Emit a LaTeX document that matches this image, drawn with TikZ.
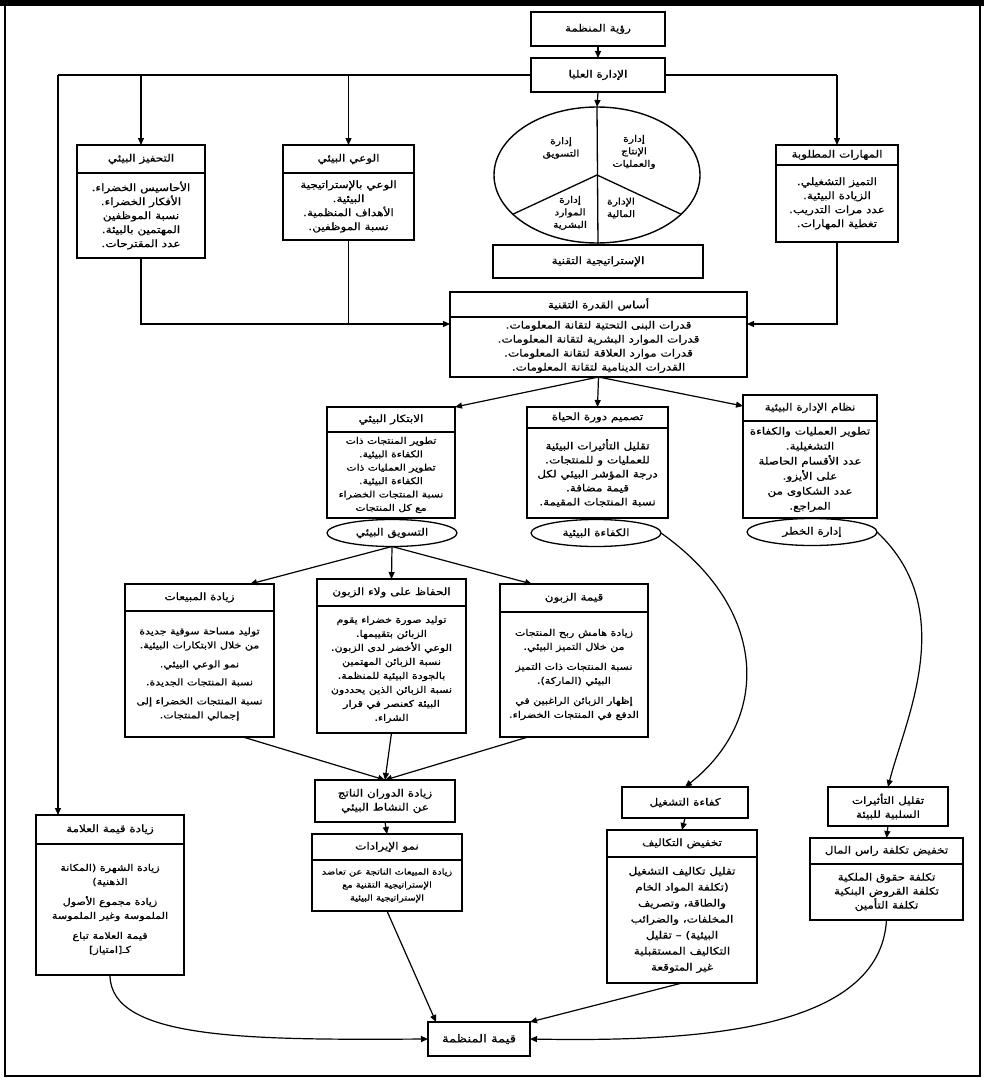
\documentclass[tikz,border=0pt]{standalone}
\usepackage{fontspec}
\usetikzlibrary{arrows.meta,shapes.geometric,calc}
\newfontfamily\arabicfont[Script=Arabic,FakeStretch=1.2,FakeBold=0.8]{DejaVu Sans}
\TeXXeTstate=1
\newcommand\AR[1]{\beginR#1\endR}
\newcommand\fs[2]{\arabicfont\fontsize{#1}{#2}\selectfont}
\tikzset{
  bx/.style={draw, line width=1.4pt, inner sep=0pt, outer sep=0pt, fill=white},
  bxline/.style={line width=1.1pt},
  txt/.style={font=\fs{10}{14}, align=center, inner sep=1pt},
  ttl/.style={font=\fs{10}{14}, align=center},
  conn/.style={line width=1.2pt},
  arr/.style={conn, -{Triangle[length=7pt,width=6pt]}},
  oval/.style={draw, ellipse, line width=1.3pt, inner sep=0pt, outer sep=0pt, minimum width=130pt, minimum height=27pt, font=\fs{10}{12}}
}
% name, x1, y1, x2, y2, text
\newcommand\plainbx[6]{%
  \node[bx, ttl, minimum width={(#4-#2)*1pt}, minimum height={(#5-#3)*1pt}] (#1) at ({(#2+#4)/2},{(#3+#5)/2}) {#6};}
% [body options] name, x1, y1, x2, y2, yh, header, body
\newcommand\hdrbx[9][]{%
  \node[bx, minimum width={(#5-#3)*1pt}, minimum height={(#6-#4)*1pt}] (#2) at ({(#3+#5)/2},{(#4+#6)/2}) {};
  \draw[bxline] (#3,#7) -- (#5,#7);
  \node[txt] (#2h) at ({(#3+#5)/2},{(#4+#7)/2}) {#8};
  \node[txt,#1] (#2b) at ({(#3+#5)/2},{(#7+#6)/2}) {#9};}
\begin{document}
\begin{tikzpicture}[x=1pt,y=-1pt]
\useasboundingbox (0,0) rectangle (984,1081);
% frame
\fill (0,0) rectangle (984,6);
\draw[line width=1.2pt] (5,5) rectangle (980,1076);

% top
\plainbx{vision}{531}{12}{665}{46}{\AR{رؤية المنظمة}}
\plainbx{top}{531}{58}{665}{92}{\AR{الإدارة العليا}}
\draw[arr] (vision.south) -- (top.north);

% first row
\hdrbx{tahfiz}{77}{145}{205}{258}{173}{\AR{التحفيز البيئي}}{\AR{الأحاسيس الخضراء.}\\\AR{الأفكار الخضراء.}\\\AR{نسبة الموظفين}\\\AR{المهتمين بالبيئة.}\\\AR{عدد المقترحات.}}
\hdrbx{waey}{283}{145}{414}{240}{173}{\AR{الوعي البيئي}}{\AR{الوعي بالإستراتيجية}\\\AR{البيئية.}\\\AR{الأهداف المنظمية.}\\\AR{نسبة الموظفين.}}
\hdrbx{mahar}{776}{145}{898}{242}{165}{\AR{المهارات المطلوبة}}{\AR{التميز التشغيلي.}\\\AR{الزيادة البيئية.}\\\AR{عدد مرات التدريب.}\\\AR{تغطية المهارات.}}

% pie
\node[draw, ellipse, line width=1.4pt, inner sep=0pt, outer sep=0pt, minimum width=206pt, minimum height=136pt] (pie) at (597,175) {};
\plainbx{strat}{493}{245}{703}{278}{\AR{الإستراتيجية التقنية}}
\draw[line width=1.3pt] (pie.north) -- (strat.north);
\draw[line width=1.3pt] (pie.center) -- (pie.205);
\draw[line width=1.3pt] (pie.center) -- (pie.335);
\node[txt, font=\fs{9}{12.5}] (p1) at (561,148) {\AR{إدارة}\\\AR{التسويق}};
\node[txt, font=\fs{9}{12.5}] (p2) at (634,152) {\AR{إدارة}\\\AR{الإنتاج}\\\AR{والعمليات}};
\node[txt, font=\fs{9}{12.5}] (p3) at (570,213) {\AR{إدارة}\\\AR{الموارد}\\\AR{البشرية}};
\node[txt, font=\fs{9}{12.5}] (p4) at (621,208) {\AR{الإدارة}\\\AR{المالية}};

% distribution lines
\coordinate (jL) at (58,75);
\coordinate (j1) at (141,75);
\coordinate (j2) at (348.5,75);
\coordinate (jR) at (837,75);
\draw[conn] (top.west) -- (jL);
\draw[conn] (top.east) -- (jR);
\draw[arr] (jR) -- (mahar.north);
\draw[arr] (j1) -- (tahfiz.north);
\draw[arr] (j2) -- (waey.north);
\draw[arr] (top.south) -- (pie.north);

% core
\hdrbx{core}{450}{292}{747}{377}{317}{\AR{أساس القدرة التقنية}}{\AR{قدرات البنى التحتية لتقانة المعلومات.}\\\AR{قدرات الموارد البشرية لتقانة المعلومات.}\\\AR{قدرات موارد العلاقة لتقانة المعلومات.}\\\AR{القدرات الدينامية لتقانة المعلومات.}}
\coordinate (cl) at (450,324);
\coordinate (cr) at (747,324);
\draw[arr] (tahfiz.south) |- (cl);
\draw[conn] (waey.south) -- (waey.south |- cl);
\draw[arr] (mahar.south) |- (cr);

% second row
\hdrbx[font=\fs{9}{13.4}]{ibtikar}{327}{407}{455}{518}{432}{\AR{الابتكار البيئي}}{\AR{تطوير المنتجات ذات}\\\AR{الكفاءة البيئية.}\\\AR{تطوير العمليات ذات}\\\AR{الكفاءة البيئية.}\\\AR{نسبة المنتجات الخضراء}\\\AR{مع كل المنتجات}}
\hdrbx{tasmim}{527}{407}{668}{518}{428}{\AR{تصميم دورة الحياة}}{\AR{تقليل التأثيرات البيئية}\\\AR{للعمليات و للمنتجات.}\\\AR{درجة المؤشر البيئي لكل}\\\AR{قيمة مضافة.}\\\AR{نسبة المنتجات المقيمة.}}
\hdrbx[font=\fs{10}{15}]{nizam}{743}{395}{877}{518}{421}{\AR{نظام الإدارة البيئية}}{\AR{تطوير العمليات والكفاءة}\\\AR{التشغيلية.}\\\AR{عدد الأقسام الحاصلة}\\\AR{على الأيزو.}\\\AR{عدد الشكاوى من}\\\AR{المراجع.}}
\coordinate (nz) at (743,406);
\draw[arr] (core.south) -- (ibtikar.north east);
\draw[arr] (core.south) -- (tasmim.north);
\draw[arr] (core.south) -- (nz);

\node[oval] (e1) at (392,533) {\AR{التسويق البيئي}};
\node[oval] (e2) at (596,533) {\AR{الكفاءة البيئية}};
\node[oval] (e3) at (812,532) {\AR{إدارة الخطر}};

% third row
\hdrbx[font=\fs{9.2}{14}]{mabiat}{125}{584}{274}{737}{611}{\AR{زيادة المبيعات}}{\AR{توليد مساحة سوقية جديدة}\\\AR{من خلال الابتكارات البيئية.}\\[5pt]\AR{نمو الوعي البيئي.}\\[4pt]\AR{نسبة المنتجات الجديدة.}\\[5pt]\AR{نسبة المنتجات الخضراء إلى}\\\AR{إجمالي المنتجات.}}
\hdrbx[font=\fs{9.2}{14}]{walaa}{317}{579}{466}{733}{606}{\AR{الحفاظ على ولاء الزبون}}{\AR{توليد صورة خضراء يقوم}\\\AR{الزبائن بتقييمها.}\\\AR{الوعي الأخضر لدى الزبون.}\\\AR{نسبة الزبائن المهتمين}\\\AR{بالجودة البيئية للمنظمة.}\\\AR{نسبة الزبائن الذين يحددون}\\\AR{البيئة كعنصر في قرار}\\\AR{الشراء.}}
\hdrbx[font=\fs{9.2}{14}]{qima}{500}{584}{648}{737}{612}{\AR{قيمة الزبون}}{\AR{زيادة هامش ربح المنتجات}\\\AR{من خلال التميز البيئي.}\\[6pt]\AR{نسبة المنتجات ذات التميز}\\\AR{البيئي (الماركة).}\\[6pt]\AR{إظهار الزبائن الراغبين في}\\\AR{الدفع في المنتجات الخضراء.}}
\coordinate (mb) at (250,584);
\coordinate (qb) at (532,584);
\draw[arr] (e1.south) -- (mb);
\draw[arr] (e1.south) -- (walaa.north);
\draw[arr] (e1.south) -- (qb);

% middle column
\plainbx{dawran}{315}{780}{455}{822}{\AR{زيادة الدوران الناتج}\\\AR{عن النشاط البيئي}}
\hdrbx[font=\fs{8.2}{13}]{namaa}{312}{834}{462}{911}{860}{\AR{نمو الإيرادات}}{\AR{زيادة المبيعات الناتجة عن تعاضد}\\\AR{الإستراتيجية التقنية مع}\\\AR{الإستراتيجية البيئية}}
\coordinate (ms) at (243,737);
\coordinate (qs) at (528,737);
\draw[arr] (ms) -- (dawran.north);
\draw[arr] (walaa.south) -- (dawran.north);
\draw[arr] (qs) -- (dawran.north);
\draw[arr] (dawran.south) -- (namaa.north);

% left column
\hdrbx[font=\fs{9.3}{14}]{brand}{36}{815}{184}{975}{844}{\AR{زيادة قيمة العلامة}}{\AR{زيادة الشهرة (المكانة}\\\AR{الذهنية)}\\[6pt]\AR{زيادة مجموع الأصول}\\\AR{الملموسة وغير الملموسة}\\[6pt]\AR{قيمة العلامة تباع}\\\AR{كـ[امتياز]}}
\draw[arr] (jL) -- (jL |- brand.north);

% right columns
\plainbx{kafaa}{622}{787}{748}{818}{\AR{كفاءة التشغيل}}
\hdrbx[font=\fs{10}{16}]{takhfid}{607}{830}{757}{983}{857}{\AR{تخفيض التكاليف}}{\AR{تقليل تكاليف التشغيل}\\\AR{(تكلفة المواد الخام}\\\AR{والطاقة، وتصريف}\\\AR{المخلفات، والضرائب}\\\AR{البيئية) – تقليل}\\\AR{التكاليف المستقبلية}\\\AR{غير المتوقعة}}
\plainbx{taqlil}{828}{787}{948}{826}{\AR{تقليل التأثيرات}\\\AR{السلبية للبيئة}}
\hdrbx{ras}{810}{838}{963}{920}{864}{\AR{تخفيض تكلفة راس المال}}{\AR{تكلفة حقوق الملكية}\\\AR{تكلفة القروض البنكية}\\\AR{تكلفة التأمين}}
\draw[arr] (e2.east) .. controls (770,610) and (770,720) .. (kafaa.north);
\draw[arr] (kafaa.south) -- (takhfid.north);
\draw[arr] (e3.east) .. controls (960,610) and (905,720) .. (taqlil.north);
\draw[arr] (taqlil.south) -- (ras.north);

% final
\node[bx, font=\fs{11}{14}, line width=1.6pt, minimum width=102pt, minimum height=34pt] (final) at (479,1039) {\AR{قيمة المنظمة}};
\draw[arr] (namaa.south) -- ($(final.north west)+(8,0)$);
\draw[arr] (takhfid.south) -- (final.north east);
\draw[arr] (brand.south) .. controls (110,1040) and (250,1040) .. (final.west);
\draw[arr] (ras.south) .. controls (880,1030) and (700,1042) .. (final.east);
\end{tikzpicture}
\end{document}
